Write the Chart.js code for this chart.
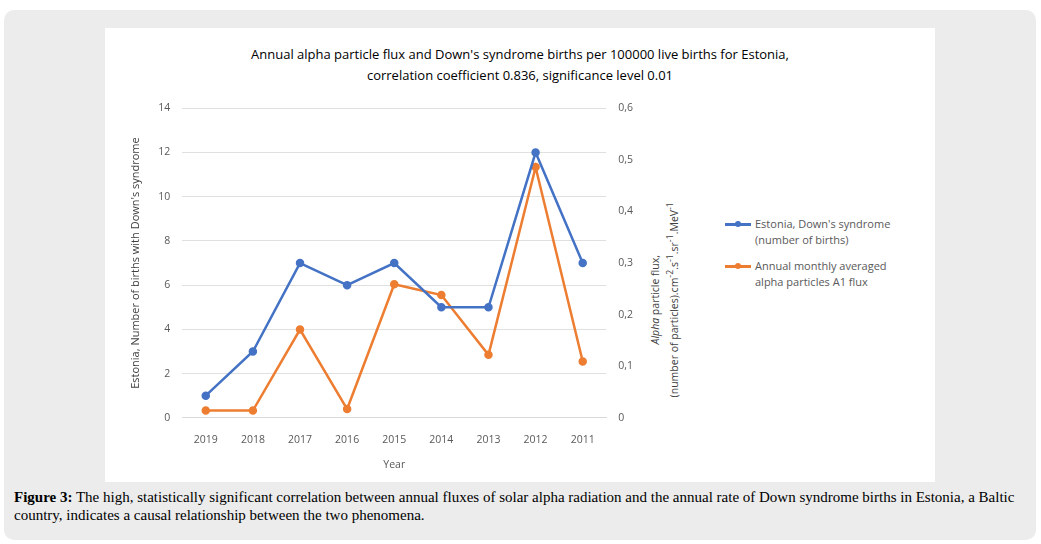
<!DOCTYPE html>
<html>
<head>
<meta charset="utf-8">
<script src="https://cdn.jsdelivr.net/npm/chart.js@4"></script>
<style>
  body { margin: 0; width: 1041px; height: 544px; background: #fff; font-family: "Open Sans", sans-serif; }
  #frame { position: absolute; left: 4px; top: 10px; width: 1032px; height: 530px; background: #ececec; border-radius: 10px; }
  #box { position: absolute; left: 105px; top: 28px; width: 830px; height: 454px; background: #fff; }
  #title { position: absolute; left: 0; top: 16px; width: 830px; text-align: center; font-size: 13px; line-height: 21px; color: #000; }
  #wrap { position: absolute; left: 20px; top: 62px; width: 520px; height: 385px; }
  #rtitle { position: absolute; left: 560px; top: 255px; width: 300px; margin-left: -150px; text-align: center;
    transform: rotate(-90deg); font-size: 10.5px; line-height: 15px; color: #404040; }
  #legend { position: absolute; left: 620px; top: 188px; font-size: 11px; color: #595959; line-height: 16px; }
  .item { position: relative; padding-left: 30px; margin-bottom: 10px; }
  .sw { position: absolute; left: 0; top: 7px; width: 26px; height: 2.5px; }
  .sw::after { content: ""; position: absolute; left: 10px; top: -2px; width: 6px; height: 6px; border-radius: 50%; background: inherit; }
  #caption { position: absolute; left: 14px; top: 488px; width: 1015px; font-family: "Liberation Serif", serif; font-size: 15px; line-height: 18px; color: #000; }
</style>
</head>
<body>
<div id="frame"></div>
<div id="box">
  <div id="title">Annual alpha particle flux and Down's syndrome births per 100000 live births for Estonia,<br>correlation coefficient 0.836, significance level 0.01</div>
  <div id="wrap"><canvas id="c"></canvas></div>
  <div id="rtitle"><i>Alpha</i> particle flux,<br>(number of particles).cm<sup>-2</sup>.s<sup>-1</sup>.sr<sup>-1</sup>.MeV<sup>-1</sup></div>
  <div id="legend">
    <div class="item"><span class="sw" style="background:#4472c4"></span>Estonia, Down's syndrome<br>(number of births)</div>
    <div class="item"><span class="sw" style="background:#ed7d31"></span>Annual monthly averaged<br>alpha particles A1 flux</div>
  </div>
</div>
<div id="caption"><b>Figure 3:</b> The high, statistically significant correlation between annual fluxes of solar alpha radiation and the annual rate of Down syndrome births in Estonia, a Baltic country, indicates a causal relationship between the two phenomena.</div>
<script>
const years = ['2019', '2018', '2017', '2016', '2015', '2014', '2013', '2012', '2011'];
const downBirths = [1, 3, 7, 6, 7, 5, 5, 12, 7];
const alphaFlux = [0.014, 0.014, 0.171, 0.017, 0.259, 0.238, 0.122, 0.486, 0.109];

const grey = '#595959';
const tickFont = { family: 'Open Sans', size: 10.5 };

new Chart(document.getElementById('c'), {
  type: 'line',
  data: {
    labels: years,
    datasets: [
      { data: downBirths, yAxisID: 'y', borderColor: '#4472c4', backgroundColor: '#4472c4',
        borderWidth: 2.5, pointRadius: 3, tension: 0 },
      { data: alphaFlux, yAxisID: 'y1', borderColor: '#ed7d31', backgroundColor: '#ed7d31',
        borderWidth: 2.5, pointRadius: 3, tension: 0 }
    ]
  },
  options: {
    responsive: true,
    maintainAspectRatio: false,
    animation: false,
    layout: { padding: { top: 10 } },
    plugins: { legend: { display: false }, tooltip: { enabled: false } },
    scales: {
      x: {
        offset: true,
        grid: { display: false },
        border: { color: '#d9d9d9' },
        ticks: { color: grey, font: tickFont, padding: 8 },
        title: { display: true, text: 'Year', color: grey, font: tickFont }
      },
      y: {
        min: 0, max: 14,
        ticks: { stepSize: 2, color: grey, font: tickFont, padding: 12 },
        grid: { color: '#e0e0e0', drawTicks: false },
        border: { display: false },
        title: { display: true, text: "Estonia, Number of births with Down's syndrome", color: '#404040', font: { family: 'Open Sans', size: 11 } }
      },
      y1: {
        position: 'right',
        min: 0, max: 0.6,
        ticks: { stepSize: 0.1, color: grey, font: tickFont, padding: 12,
          callback: v => v === 0 ? '0' : v.toFixed(1).replace('.', ',') },
        grid: { display: false, drawTicks: false },
        border: { display: false }
      }
    }
  }
});
</script>
</body>
</html>
